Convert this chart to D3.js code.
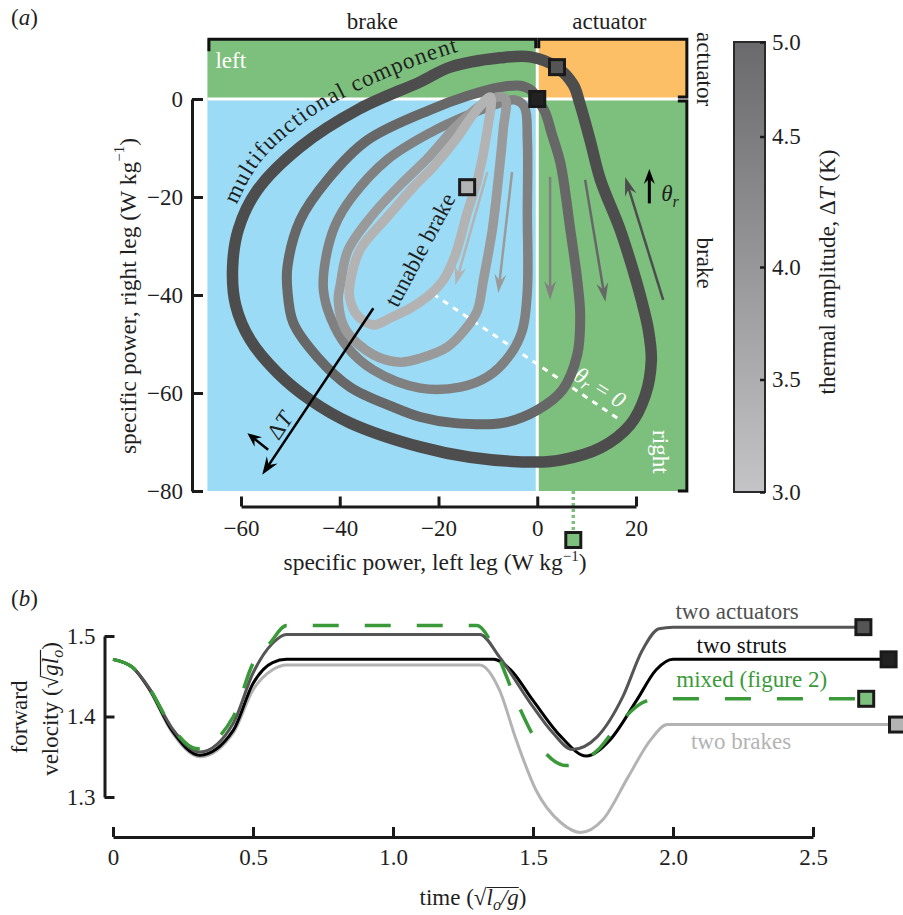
<!DOCTYPE html>
<html>
<head>
<meta charset="utf-8">
<script src="https://cdn.jsdelivr.net/npm/d3@7"></script>
<style>
  body { margin: 0; background: #fff; }
  svg text { font-family: "Liberation Serif", "Times New Roman", serif; fill: #1f1f1f; }
</style>
</head>
<body>
<svg id="chart" width="903" height="915"></svg>
<script>
// ---------- data: panel (a) ----------
// loops in specific power space [left leg, right leg] (W/kg), one per thermal amplitude
const loopDT = [5.0, 4.5, 4.0, 3.5, 3.0];
const loop50 = [[-17.6,6.5],[-7.5,8.4],[-1.4,8.6],[4.0,6.5],[7.3,2.9],[8.7,-1.2],[10.7,-8.4],[12.8,-16.5],
  [16.8,-26.7],[19.4,-34.9],[21.1,-41.0],[22.5,-47.1],[23.1,-53.3],[21.9,-60.4],[18.8,-66.5],[12.8,-71.2],
  [4.7,-73.7],[0,-74.1],[-13.6,-73.1],[-23.7,-71.0],[-37.9,-66.1],[-46.0,-61.4],[-52.6,-55.9],[-58.1,-49.2],
  [-61.1,-42.0],[-61.7,-34.3],[-60.5,-26.5],[-56.7,-18.6],[-48.0,-9.8],[-36.0,-2.0],[-23.7,3.5]];
const loop45 = [[-14.2,0.6],[-7.5,2.4],[-3.4,2.7],[-1.0,1.6],[0,0],[1.6,-2.7],[3.0,-7.3],[4.7,-13.1],
  [6.7,-26.7],[8.1,-36.9],[8.7,-44.1],[8.1,-52.2],[5.1,-59.4],[0,-63.5],[-6.9,-66.1],[-17.0,-66.1],
  [-23.7,-64.9],[-29.1,-62.9],[-37.9,-58.8],[-44.5,-52.7],[-49.4,-45.7],[-50.6,-39.0],[-50.6,-34.3],
  [-48.0,-24.7],[-42.5,-16.5],[-34.4,-8.4],[-21.7,-2.2]];
const loop40 = [[-21.7,-6.9],[-13.6,-3.1],[-7.5,-0.8],[-4.5,-0.2],[-2.6,-1.6],[-2.0,-8.4],[-2.0,-23.3],
  [-2.0,-39.0],[-3.0,-47.1],[-5.5,-52.2],[-10.1,-56.7],[-15.6,-58.8],[-23.7,-59.0],[-33.2,-55.3],
  [-38.5,-50.6],[-41.9,-44.5],[-43.3,-39.0],[-42.9,-32.9],[-40.9,-25.7],[-37.5,-20.0],[-30.4,-12.4]];
const loop35 = [[-6.5,0.0],[-6.9,-6.3],[-7.9,-16.5],[-9.1,-26.7],[-10.9,-36.9],[-12.1,-43.1],[-14.2,-46.5],
  [-18.2,-50.6],[-23.7,-52.9],[-27.7,-53.7],[-33.2,-52.2],[-38.8,-47.1],[-40.3,-41.0],[-39.9,-38.0],
  [-38.3,-30.8],[-33.4,-23.7],[-27.8,-17.6],[-22.1,-12.0],[-16.7,-5.9],[-11.6,-1.4],[-8.2,0.4]];
const loop30 = [[-9.5,0.4],[-10.1,-6.3],[-12.1,-16.5],[-14.2,-23.3],[-16.6,-31.8],[-19.0,-36.9],
  [-22.1,-40.2],[-25.7,-42.7],[-29.8,-44.7],[-33.2,-46.1],[-36.5,-44.1],[-38.0,-40.5],[-37.9,-37.6],
  [-35.9,-30.8],[-30.4,-24.1],[-25.1,-18.0],[-21.1,-13.9],[-16.6,-8.4],[-12.6,-2.7]];
const loops = [loop50, loop45, loop40, loop35, loop30];

// operating points marked with squares (left, right power)
const caseNames = ['two actuators', 'two struts', 'mixed (figure 2)', 'two brakes'];
const caseFill = ['#555555', '#222222', '#7dbf7d', '#b3b3b3'];
const casePower = [[4.0, 6.5], [0, 0], [7.3, -90], [-14.2, -18.0]];

// flow-direction arrows inside the loops
const flowFrom = [[-10.1,-14.9], [-5.1,-14.9], [2.6,-15.9], [9.7,-16.5], [25.5,-41.0]];
const flowTo   = [[-16.6,-38.0], [-7.9,-39.6], [2.6,-41.0], [13.8,-41.4], [17.8,-15.9]];
const flowDT   = [3.0, 3.5, 4.0, 4.5, 5.0];

// colour bar
const cbTicks = [3.0, 3.5, 4.0, 4.5, 5.0];
const cbTickFrac = [0, 0.25, 0.5, 0.79, 1];

// ---------- data: panel (b) ----------
const tActuators = [0,0.07,0.13,0.21,0.31,0.43,0.5,0.57,0.62,1.31,1.38,1.49,1.57,1.64,1.73,1.82,1.89,1.95,2.0,2.68];
const vActuators = [1.471,1.461,1.435,1.386,1.356,1.392,1.454,1.491,1.502,1.502,1.474,1.417,1.380,1.359,1.375,1.424,1.482,1.509,1.511,1.511];
const tStruts = [0,0.07,0.13,0.21,0.31,0.43,0.5,0.57,0.62,1.36,1.42,1.5,1.6,1.69,1.775,1.87,1.94,2.0,2.77];
const vStruts = [1.471,1.461,1.434,1.383,1.352,1.383,1.441,1.467,1.471,1.471,1.458,1.420,1.375,1.351,1.371,1.420,1.458,1.471,1.471];
const tMixed = [0,0.07,0.13,0.21,0.3,0.43,0.5,0.56,0.62,1.3,1.36,1.44,1.51,1.62,1.73,1.81,1.89,1.94,2.69];
const vMixed = [1.471,1.461,1.435,1.387,1.360,1.400,1.466,1.491,1.513,1.513,1.486,1.420,1.371,1.339,1.358,1.392,1.417,1.422,1.422];
const tBrakes = [0,0.07,0.13,0.21,0.31,0.43,0.5,0.57,0.62,1.31,1.38,1.44,1.51,1.6,1.67,1.75,1.84,1.92,1.98,2.80];
const vBrakes = [1.471,1.461,1.433,1.381,1.350,1.380,1.433,1.458,1.464,1.464,1.433,1.371,1.309,1.268,1.256,1.272,1.325,1.371,1.390,1.390];
const lineT = [tActuators, tStruts, tMixed, tBrakes];
const lineV = [vActuators, vStruts, vMixed, vBrakes];
const lineColor = ['#555555', '#000000', '#3a9a3a', '#b3b3b3'];
const labelColor = ['#505050', '#111111', '#3a9a3a', '#b3b3b3'];
const labelPos = [[2.229, 1.5215], [2.245, 1.4790], [2.281, 1.4365], [2.243, 1.3595]];

const svg = d3.select('#chart');
const ink = '#1a1a1a';

// ================= panel (a) =================
const xA = d3.scaleLinear().domain([-60, 20]).range([241, 636]);
const yA = d3.scaleLinear().domain([-80, 0]).range([491, 99]);
const xMin = -66.8, xMax = 30.3, yMax = 12.2, yMin = -80;
const loopColor = d3.scaleLinear().domain([3.0, 5.0]).range(['#b3b3b3', '#4d4d4d']);

const gA = svg.append('g');

// quadrants
const quads = [
  {x0: xMin, x1: 0, y0: 0, y1: yMax, fill: '#7dbf7d'},
  {x0: 0, x1: xMax, y0: 0, y1: yMax, fill: '#fcbf66'},
  {x0: xMin, x1: 0, y0: yMin, y1: 0, fill: '#9cdbf5'},
  {x0: 0, x1: xMax, y0: yMin, y1: 0, fill: '#7dbf7d'}
];
gA.selectAll('rect.quad').data(quads).enter().append('rect')
  .attr('class', 'quad')
  .attr('x', d => xA(d.x0)).attr('y', d => yA(d.y1))
  .attr('width', d => xA(d.x1) - xA(d.x0)).attr('height', d => yA(d.y0) - yA(d.y1))
  .attr('fill', d => d.fill);
gA.append('line').attr('x1', xA(0)).attr('x2', xA(0)).attr('y1', yA(yMax)).attr('y2', yA(yMin))
  .attr('stroke', '#fff').attr('stroke-width', 3);
gA.append('line').attr('x1', xA(xMin)).attr('x2', xA(xMax)).attr('y1', yA(0)).attr('y2', yA(0))
  .attr('stroke', '#fff').attr('stroke-width', 3);

// white quadrant names
gA.append('text').attr('x', xA(xMin) + 8).attr('y', yA(0) - 31).attr('font-size', 23)
  .style('fill', '#fff').text('left');
gA.append('text').attr('transform', `translate(${xA(xMax) - 26},${yA(-72)}) rotate(90)`)
  .attr('text-anchor', 'middle').attr('dominant-baseline', 'central').attr('font-size', 23)
  .style('fill', '#fff').text('right');

// theta_r = 0 dashed line
gA.append('line').attr('x1', xA(-21.1)).attr('y1', yA(-39.8)).attr('x2', xA(16.2)).attr('y2', yA(-65.1))
  .attr('stroke', '#fff').attr('stroke-width', 3).attr('stroke-dasharray', '6,6');
const th0 = gA.append('text')
  .attr('transform', `translate(${xA(12.7)},${yA(-58.8)}) rotate(32)`)
  .attr('text-anchor', 'middle').attr('dominant-baseline', 'central').attr('font-size', 23)
  .style('fill', '#fff').style('font-style', 'italic');
th0.append('tspan').text('θ');
th0.append('tspan').attr('dy', 5).attr('font-size', 16).text('r');
th0.append('tspan').attr('dy', -5).text(' = 0');

// loops
const loopLine = d3.line().x(d => xA(d[0])).y(d => yA(d[1])).curve(d3.curveCatmullRomClosed.alpha(0.5));
const loopWidth = [11.5, 10, 9.5, 9.5, 9.5];
loops.forEach((pts, i) => {
  gA.append('path').attr('d', loopLine(pts)).attr('fill', 'none')
    .attr('stroke', loopColor(loopDT[i])).attr('stroke-width', loopWidth[i])
    .attr('stroke-linejoin', 'round');
});

// arrows
function arrow(g, p, q, color, w, len, half) {
  const x1 = xA(p[0]), y1 = yA(p[1]), x2 = xA(q[0]), y2 = yA(q[1]);
  const a = Math.atan2(y2 - y1, x2 - x1);
  const ux = Math.cos(a), uy = Math.sin(a), nx = -uy, ny = ux;
  g.append('line').attr('x1', x1).attr('y1', y1)
    .attr('x2', x2 - ux * len * 0.6).attr('y2', y2 - uy * len * 0.6)
    .attr('stroke', color).attr('stroke-width', w);
  const bx = x2 - ux * len, by = y2 - uy * len;
  const pts = [[x2, y2], [bx + nx * half, by + ny * half], [x2 - ux * len * 0.65, y2 - uy * len * 0.65],
    [bx - nx * half, by - ny * half]];
  g.append('path').attr('d', 'M' + pts.map(p => p.join(',')).join('L') + 'Z').attr('fill', color);
}
flowFrom.forEach((p, i) => arrow(gA, p, flowTo[i], loopColor(flowDT[i]), 2.5, 19, 6));

// theta_r arrow
arrow(gA, [22.7, -21.3], [22.7, -14.3], '#000', 3, 15, 5.5);
const thr = gA.append('text').attr('x', xA(25.1)).attr('y', yA(-20.8)).attr('font-size', 23)
  .style('font-style', 'italic');
thr.append('tspan').text('θ');
thr.append('tspan').attr('dy', 6).attr('font-size', 16).text('r');

// Delta T arrows
arrow(gA, [-33.2, -42.7], [-55.7, -76.7], '#000', 2.5, 18, 6.5);
arrow(gA, [-54.5, -71.6], [-58.7, -68.2], '#000', 2.5, 14, 6);
const dT = gA.append('text')
  .attr('transform', `translate(${xA(-52.2)},${yA(-66.6)}) rotate(-56)`)
  .attr('text-anchor', 'middle').attr('dominant-baseline', 'central').attr('font-size', 23);
dT.append('tspan').text('Δ');
dT.append('tspan').style('font-style', 'italic').text('T');

// loop labels: curved label split into two words on one baseline path
const mfPath = d3.line().x(d => xA(d[0])).y(d => yA(d[1])).curve(d3.curveNatural)(
  [[-60.9,-21.6],[-56.5,-13.5],[-50.0,-6.9],[-41.9,-1.2],[-32.8,3.3],[-23.7,7.1],[-13.0,10.6]]);
gA.append('path').attr('id', 'mfcurve').attr('d', mfPath).attr('fill', 'none');
const w1 = gA.append('text').attr('font-size', 23).attr('letter-spacing', 1.2);
w1.append('textPath').attr('href', '#mfcurve').attr('startOffset', 0).text('multifunctional');
const w1len = w1.node().getComputedTextLength();
gA.append('text').attr('font-size', 23).attr('letter-spacing', 1.2)
  .append('textPath').attr('href', '#mfcurve').attr('startOffset', w1len + 7).text('component');
gA.append('text')
  .attr('transform', `translate(${xA(-23.7)},${yA(-30.8)}) rotate(-62)`)
  .attr('text-anchor', 'middle').attr('dominant-baseline', 'central').attr('font-size', 23)
  .text('tunable brake');

// green dotted drop line and squares
gA.append('line').attr('x1', xA(casePower[2][0])).attr('x2', xA(casePower[2][0]))
  .attr('y1', yA(-80)).attr('y2', yA(casePower[2][1]))
  .attr('stroke', '#7dbf7d').attr('stroke-width', 3.5).attr('stroke-dasharray', '3,3');
casePower.forEach((p, i) => {
  gA.append('rect').attr('x', xA(p[0]) - 7.5).attr('y', yA(p[1]) - 7.5)
    .attr('width', 15).attr('height', 15).attr('fill', caseFill[i])
    .attr('stroke', ink).attr('stroke-width', 3);
});

// brackets
const yTopPx = yA(yMax), xRightPx = xA(xMax);
const br = gA.append('g').attr('fill', 'none').attr('stroke', '#111').attr('stroke-width', 3);
br.append('path').attr('d', `M${xA(xMin) + 1.5},${yTopPx + 12}V${yTopPx}H${xA(0) - 1.5}V${yTopPx + 9}`);
br.append('path').attr('d', `M${xA(0) + 1.5},${yTopPx + 9}V${yTopPx}H${xRightPx}V${yA(0) - 2}H${xRightPx - 9}`);
br.append('path').attr('d', `M${xRightPx - 9},${yA(0) + 2}H${xRightPx}V${yA(yMin)}H${xRightPx - 9}`);
gA.append('text').attr('x', xA(-33.4)).attr('y', yTopPx - 10).attr('text-anchor', 'middle')
  .attr('font-size', 23).text('brake');
gA.append('text').attr('x', xA(14.6)).attr('y', yTopPx - 10).attr('text-anchor', 'middle')
  .attr('font-size', 23).text('actuator');
gA.append('text').attr('transform', `translate(${xRightPx + 18},${yA(6.1)}) rotate(90)`)
  .attr('text-anchor', 'middle').attr('dominant-baseline', 'central').attr('font-size', 23).text('actuator');
gA.append('text').attr('transform', `translate(${xRightPx + 18},${yA(-33.5)}) rotate(90)`)
  .attr('text-anchor', 'middle').attr('dominant-baseline', 'central').attr('font-size', 23).text('brake');

// axes
function styleAxis(g) {
  g.select('.domain').attr('stroke', ink).attr('stroke-width', 3);
  g.selectAll('.tick line').attr('stroke', ink).attr('stroke-width', 3);
  g.selectAll('.tick text').attr('font-size', 23).attr('font-family', null).style('fill', '#1f1f1f');
}
gA.append('g').attr('transform', 'translate(192,0)')
  .call(d3.axisLeft(yA).tickValues([0, -20, -40, -60, -80]).tickSizeInner(-11).tickSizeOuter(0).tickPadding(9))
  .call(styleAxis);
gA.append('g').attr('transform', 'translate(0,506.5)')
  .call(d3.axisBottom(xA).tickValues([-60, -40, -20, 0, 20]).tickSizeInner(-10).tickSizeOuter(0).tickPadding(13))
  .call(styleAxis);

function unitLabel(t, prefix) {
  t.append('tspan').text(prefix + ' (W kg');
  t.append('tspan').attr('dy', -9).attr('font-size', 15).text('−1');
  t.append('tspan').attr('dy', 9).text(')');
}
unitLabel(gA.append('text').attr('x', 435).attr('y', 570).attr('text-anchor', 'middle').attr('font-size', 23.5),
  'specific power, left leg');
unitLabel(gA.append('text').attr('transform', 'translate(128,296) rotate(-90)')
  .attr('text-anchor', 'middle').attr('dominant-baseline', 'central').attr('font-size', 23.5),
  'specific power, right leg');

// colour bar
const cbX = 734, cbW = 31, cbTop = 42, cbBottom = 492;
const yCB = d3.scaleLinear().domain(cbTicks).range(cbTickFrac.map(f => cbBottom - f * (cbBottom - cbTop)));
const grad = svg.append('defs').append('linearGradient').attr('id', 'cbgrad')
  .attr('x1', 0).attr('y1', 1).attr('x2', 0).attr('y2', 0);
grad.append('stop').attr('offset', 0).attr('stop-color', '#c4c4c6');
grad.append('stop').attr('offset', 1).attr('stop-color', '#6a6a6c');
gA.append('rect').attr('x', cbX).attr('y', cbTop).attr('width', cbW).attr('height', cbBottom - cbTop)
  .attr('fill', 'url(#cbgrad)').attr('stroke', '#2a2a2a').attr('stroke-width', 2);
const cbAxis = gA.append('g').attr('transform', `translate(${cbX + cbW},0)`)
  .call(d3.axisRight(yCB).tickValues(cbTicks).tickFormat(d3.format('.1f')).tickSizeInner(-5).tickSizeOuter(0).tickPadding(7));
cbAxis.select('.domain').remove();
cbAxis.selectAll('.tick line').attr('stroke', ink).attr('stroke-width', 2.5);
cbAxis.selectAll('.tick text').attr('font-size', 23).attr('font-family', null).style('fill', '#1f1f1f');
const cbt = gA.append('text').attr('transform', 'translate(827,272) rotate(-90)')
  .attr('text-anchor', 'middle').attr('dominant-baseline', 'central').attr('font-size', 23);
cbt.append('tspan').text('thermal amplitude, Δ');
cbt.append('tspan').style('font-style', 'italic').text('T');
cbt.append('tspan').text(' (K)');

// panel letter
const la = svg.append('text').attr('x', 11).attr('y', 25).attr('font-size', 23);
la.append('tspan').text('(');
la.append('tspan').style('font-style', 'italic').text('a');
la.append('tspan').text(')');

// ================= panel (b) =================
const xB = d3.scaleLinear().domain([0, 2.5]).range([113, 813]);
const yB = d3.scaleLinear().domain([1.3, 1.5]).range([797, 636]);
const gB = svg.append('g');

gB.append('g').attr('transform', 'translate(104.5,0)')
  .call(d3.axisLeft(yB).tickValues([1.3, 1.4, 1.5]).tickFormat(d3.format('.1f'))
    .tickSizeInner(-10).tickSizeOuter(0).tickPadding(9))
  .call(styleAxis);
gB.append('g').attr('transform', 'translate(0,837)')
  .call(d3.axisBottom(xB).tickValues([0, 0.5, 1.0, 1.5, 2.0, 2.5])
    .tickFormat(d => d === 0 ? '0' : d3.format('.1f')(d))
    .tickSizeInner(-10).tickSizeOuter(0).tickPadding(12))
  .call(styleAxis);

const vLine = d3.line().x(d => xB(d[0])).y(d => yB(d[1])).curve(d3.curveMonotoneX);
const drawOrder = [3, 1, 0, 2];
drawOrder.forEach(i => {
  const pts = lineT[i].map((t, k) => [t, lineV[i][k]]);
  gB.append('path').attr('d', vLine(pts)).attr('fill', 'none')
    .attr('stroke', lineColor[i]).attr('stroke-width', i === 2 ? 3.5 : 3)
    .attr('stroke-dasharray', i === 2 ? '26,26' : null);
});
lineT.forEach((ts, i) => {
  const t = ts[ts.length - 1], v = lineV[i][lineV[i].length - 1];
  gB.append('rect').attr('x', xB(t) - 7.5).attr('y', yB(v) - 7.5).attr('width', 15).attr('height', 15)
    .attr('fill', caseFill[i]).attr('stroke', ink).attr('stroke-width', 3);
  gB.append('text').attr('x', xB(labelPos[i][0])).attr('y', yB(labelPos[i][1]))
    .attr('text-anchor', 'middle').attr('font-size', 23).style('fill', labelColor[i]).text(caseNames[i]);
});

// text with a square root: vinculum drawn over chars [from, to]
function rootLabel(g, parts, from, to) {
  const t = g.append('text').attr('text-anchor', 'middle').attr('font-size', 23);
  parts.forEach(p => {
    const s = t.append('tspan').text(p.s);
    if (p.it) s.style('font-style', 'italic');
    if (p.small) s.attr('font-size', 16);
    if (p.dy) s.attr('dy', p.dy);
  });
  const n = t.node();
  const x0 = n.getStartPositionOfChar(from).x, x1 = n.getEndPositionOfChar(to).x;
  g.append('line').attr('x1', x0).attr('x2', x1).attr('y1', -17.5).attr('y2', -17.5)
    .attr('stroke', '#1f1f1f').attr('stroke-width', 1.2);
  return t;
}

// axis titles for (b)
gB.append('text').attr('transform', 'translate(27,717) rotate(-90)')
  .attr('text-anchor', 'middle').attr('font-size', 23).text('forward');
const velG = gB.append('g').attr('transform', 'translate(58,709) rotate(-90)');
// "velocity (√gl_o)": root covers chars 11..13
rootLabel(velG, [{s: 'velocity ('}, {s: '√'}, {s: 'gl', it: true}, {s: 'o', it: true, small: true, dy: 5},
  {s: ')', dy: -5}], 11, 13);

const timeG = gB.append('g').attr('transform', 'translate(473,905)');
// "time (√l_o/g)": root covers chars 7..10
rootLabel(timeG, [{s: 'time ('}, {s: '√'}, {s: 'l', it: true}, {s: 'o', it: true, small: true, dy: 5},
  {s: '/g', it: true, dy: -5}, {s: ')'}], 7, 10);

const lb = svg.append('text').attr('x', 11).attr('y', 606).attr('font-size', 23);
lb.append('tspan').text('(');
lb.append('tspan').style('font-style', 'italic').text('b');
lb.append('tspan').text(')');
</script>
</body>
</html>
